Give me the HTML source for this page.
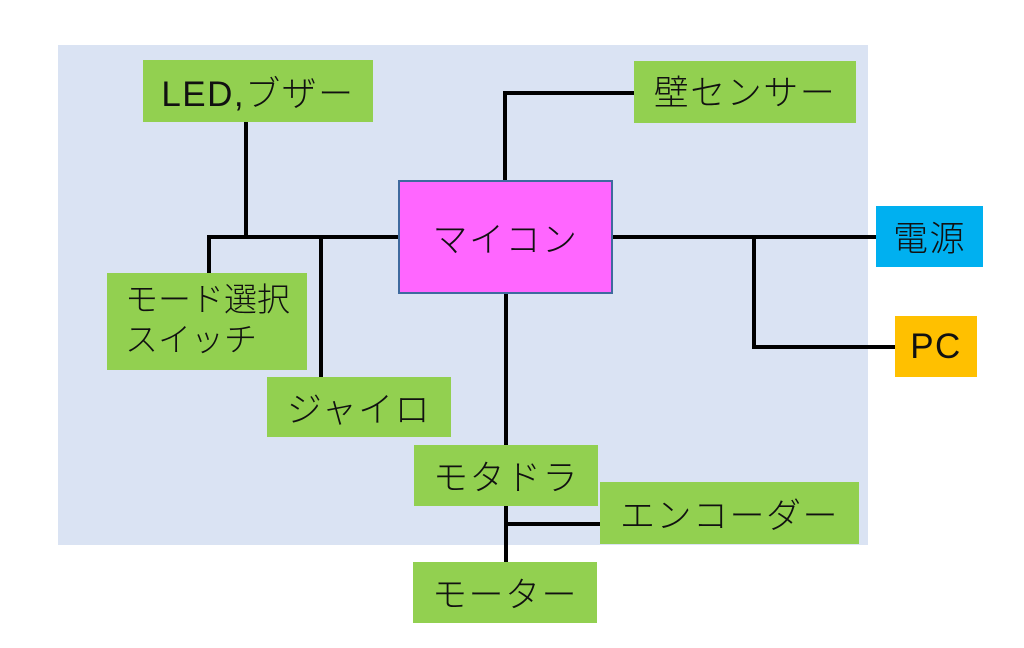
<!DOCTYPE html>
<html><head><meta charset="utf-8">
<style>
html,body{margin:0;padding:0;background:#fff;}
body{width:1024px;height:648px;position:relative;overflow:hidden;font-family:"Liberation Sans","Noto Sans CJK JP",sans-serif;}
.bg{position:absolute;left:58px;top:45px;width:810px;height:500px;background:#dae3f3;}
.b{position:absolute;box-sizing:border-box;display:flex;align-items:center;justify-content:center;color:#111;font-size:35px;font-weight:300;letter-spacing:1.5px;white-space:nowrap;font-family:"Liberation Sans","Noto Sans CJK JP",sans-serif;}
.g{background:#92d050;}
.l{position:absolute;background:#000;}
</style></head><body>
<div class="bg"></div>

<!-- lines -->
<div class="l" style="left:244px;top:122px;width:4px;height:117px;"></div>
<div class="l" style="left:207px;top:235px;width:191px;height:4px;"></div>
<div class="l" style="left:207px;top:235px;width:4px;height:38px;"></div>
<div class="l" style="left:319px;top:235px;width:4px;height:142px;"></div>
<div class="l" style="left:503px;top:91px;width:4px;height:89px;"></div>
<div class="l" style="left:503px;top:91px;width:131px;height:4px;"></div>
<div class="l" style="left:613px;top:235px;width:264px;height:4px;"></div>
<div class="l" style="left:752px;top:235px;width:4px;height:114px;"></div>
<div class="l" style="left:752px;top:345px;width:143px;height:4px;"></div>
<div class="l" style="left:504px;top:294px;width:4px;height:151px;"></div>
<div class="l" style="left:504px;top:506px;width:4px;height:56px;"></div>
<div class="l" style="left:504px;top:522px;width:96px;height:4px;"></div>

<!-- boxes -->
<div class="b g" style="left:143px;top:60px;width:230px;height:62px;">LED,ブザー</div>
<div class="b g" style="left:634px;top:61px;width:222px;height:62px;padding-bottom:4px;">壁センサー</div>
<div class="b" style="left:398px;top:180px;width:215px;height:114px;background:#ff66ff;border:2px solid #3f6a9e;">マイコン</div>
<div class="b" style="left:876px;top:206px;width:107px;height:61px;background:#00b0f0;">電源</div>
<div class="b" style="left:895px;top:316px;width:82px;height:61px;background:#ffc000;">PC</div>
<div class="b g" style="left:107px;top:273px;width:200px;height:97px;display:block;font-size:33px;letter-spacing:0;line-height:40px;padding:7px 0 0 18px;">モード選択<br>スイッチ</div>
<div class="b g" style="left:267px;top:377px;width:184px;height:60px;">ジャイロ</div>
<div class="b g" style="left:414px;top:445px;width:184px;height:61px;">モタドラ</div>
<div class="b g" style="left:600px;top:482px;width:259px;height:62px;">エンコーダー</div>
<div class="b g" style="left:413px;top:562px;width:184px;height:61px;">モーター</div>
</body></html>
